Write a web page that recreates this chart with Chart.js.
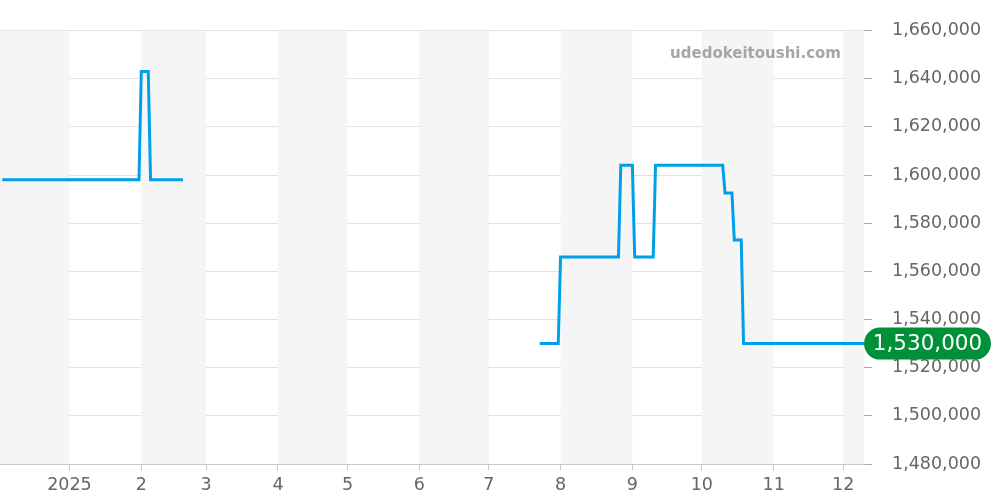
<!DOCTYPE html>
<html>
<head>
<meta charset="utf-8">
<script src="https://cdn.jsdelivr.net/npm/chart.js@4.4.1/dist/chart.umd.min.js"></script>
<style>
  html, body { margin: 0; padding: 0; background: #fff; }
  #chart { display: block; }
</style>
</head>
<body>
<canvas id="chart" width="1000" height="500"></canvas>
<script>
// price history (null = no data)
const dates = [
  "2024-12-03", "2025-01-31", "2025-02-01", "2025-02-04", "2025-02-05", "2025-02-19",
  "2025-05-01",
  "2025-07-23", "2025-07-31", "2025-08-01", "2025-08-26", "2025-08-27", "2025-09-01",
  "2025-09-02", "2025-09-10", "2025-09-11", "2025-10-10", "2025-10-11", "2025-10-14",
  "2025-10-15", "2025-10-18", "2025-10-19", "2025-12-10",
];
const prices = [
  1598000, 1598000, 1643000, 1643000, 1598000, 1598000,
  null,
  1530000, 1530000, 1566000, 1566000, 1604000, 1604000,
  1566000, 1566000, 1604000, 1604000, 1592500, 1592500,
  1573000, 1573000, 1530000, 1530000,
];
const yTicks = [1480000, 1500000, 1520000, 1540000, 1560000, 1580000, 1600000, 1620000, 1640000, 1660000];
const xStart = "2024-12-02";
const xEnd = "2025-12-10";
const latestPrice = 1530000;
const siteName = "udedokeitoushi.com";

const toMs = (d) => Date.parse(d);
const fmt = (v) => v.toLocaleString("en-US");

// month starts for ticks + shaded bands
const monthStarts = [];
for (let m = 0; m < 12; m++) monthStarts.push(Date.UTC(2025, m, 1));

const bandPlugin = {
  id: "bands",
  beforeDatasetsDraw(chart) {
    const { ctx, chartArea, scales } = chart;
    const x = scales.x;
    ctx.save();
    ctx.beginPath();
    ctx.rect(chartArea.left, chartArea.top, chartArea.right - chartArea.left, chartArea.bottom - chartArea.top);
    ctx.clip();
    ctx.fillStyle = "#f5f5f5";
    for (let m = -1; m < 12; m++) {
      const d0 = new Date(Date.UTC(2025, m, 1));
      if (d0.getUTCMonth() % 2 !== 1) continue;
      const a = x.getPixelForValue(d0.getTime());
      const b = x.getPixelForValue(Date.UTC(2025, m + 1, 1));
      ctx.fillRect(a, chartArea.top, b - a, chartArea.bottom - chartArea.top);
    }
    ctx.restore();
  },
};

const labelPlugin = {
  id: "latest",
  afterDraw(chart) {
    const { ctx, chartArea, scales } = chart;
    const y = scales.y.getPixelForValue(latestPrice);
    const x0 = chartArea.right;
    const w = 127, h = 32, r = 16;
    ctx.save();
    ctx.fillStyle = "#009138";
    ctx.beginPath();
    ctx.roundRect(x0, y - h / 2, w, h, r);
    ctx.fill();
    ctx.fillStyle = "#ffffff";
    ctx.font = "21.5px 'DejaVu Sans'";
    ctx.textAlign = "center";
    ctx.textBaseline = "middle";
    ctx.fillText(fmt(latestPrice), x0 + w / 2, y + 1);

    // watermark
    ctx.fillStyle = "#a6a6a6";
    ctx.font = "bold 15px 'DejaVu Sans'";
    ctx.textAlign = "right";
    ctx.textBaseline = "alphabetic";
    ctx.fillText(siteName, chartArea.right - 23, 58);
    ctx.restore();
  },
};

new Chart(document.getElementById("chart"), {
  type: "line",
  data: {
    datasets: [
      {
        data: dates.map((d, i) => ({ x: toMs(d), y: prices[i] })),
        borderColor: "#00a0e9",
        borderWidth: 3,
        pointRadius: 0,
        tension: 0,
        spanGaps: false,
        fill: false,
      },
    ],
  },
  options: {
    responsive: false,
    animation: false,
    layout: { padding: { top: 30, left: 0, right: 0, bottom: 0 } },
    plugins: {
      legend: { display: false },
      tooltip: { enabled: false },
    },
    scales: {
      x: {
        type: "linear",
        min: toMs(xStart),
        max: toMs(xEnd),
        afterBuildTicks: (scale) => {
          scale.ticks = monthStarts.map((v) => ({ value: v }));
        },
        afterFit: (scale) => {
          scale.height = 36;
        },
        grid: {
          drawOnChartArea: false,
          drawTicks: true,
          tickLength: 6,
          color: "#c8c8c8",
        },
        border: { display: true, color: "#c8c8c8" },
        ticks: {
          autoSkip: false,
          maxRotation: 0,
          padding: 5,
          color: "#666666",
          font: { family: "'DejaVu Sans'", size: 17.5 },
          callback: (v) => {
            const d = new Date(v);
            return d.getUTCMonth() === 0 ? String(d.getUTCFullYear()) : String(d.getUTCMonth() + 1);
          },
        },
      },
      y: {
        position: "right",
        min: yTicks[0],
        max: yTicks[yTicks.length - 1],
        afterBuildTicks: (scale) => {
          scale.ticks = yTicks.map((v) => ({ value: v }));
        },
        afterFit: (scale) => {
          scale.width = 136;
        },
        grid: {
          color: "#e2e2e2",
          tickLength: 8,
          tickColor: "#aaaaaa",
        },
        border: { display: false },
        ticks: {
          padding: 20,
          color: "#666666",
          font: { family: "'DejaVu Sans'", size: 17.5 },
          callback: (v) => fmt(v),
        },
      },
    },
  },
  plugins: [bandPlugin, labelPlugin],
});
</script>
</body>
</html>
